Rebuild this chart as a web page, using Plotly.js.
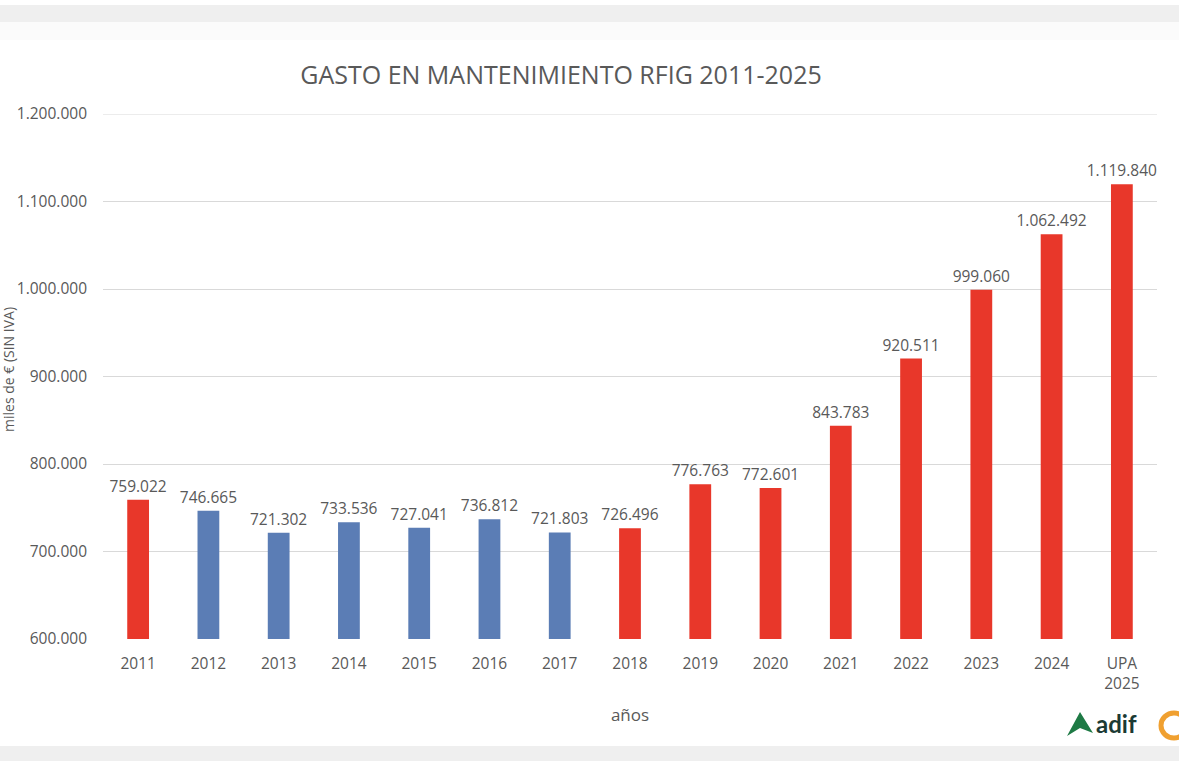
<!DOCTYPE html>
<html>
<head>
<meta charset="utf-8">
<script src="https://cdn.plot.ly/plotly-3.0.1.min.js"></script>
<style>html,body{margin:0;padding:0;background:#fff;}#chart{width:1179px;height:761px;}</style>
</head>
<body>
<div id="chart"></div>
<script>
const categories = ['2011','2012','2013','2014','2015','2016','2017','2018','2019','2020','2021','2022','2023','2024','UPA<br>2025'];
const values = [759022, 746665, 721302, 733536, 727041, 736812, 721803, 726496, 776763, 772601, 843783, 920511, 999060, 1062492, 1119840];
const blueCategories = ['2012','2013','2014','2015','2016','2017'];
const yTicks = [600000, 700000, 800000, 900000, 1000000, 1100000, 1200000];

const RED = '#E8372A', BLUE = '#5B7DB5', TXT = '#595959';
const colors = categories.map(c => blueCategories.includes(c) ? BLUE : RED);

const L = 103, R = 22, T = 114, B = 122, H = 761, W = 1179;
const ph = H - T - B, pw = W - L - R;
const py = px => (H - B - px) / ph;   // pixel y -> paper y
const pxx = px => (px - L) / pw;       // pixel x -> paper x

const trace = {
  type: 'bar', x: categories, y: values,
  marker: {color: colors},
  texttemplate: '%{y:,d}', textposition: 'outside', cliponaxis: false, constraintext: 'none',
  textfont: {family: 'Open Sans', size: 15.5, color: TXT},
  outsidetextfont: {family: 'Open Sans', size: 15.5, color: TXT},
  hoverinfo: 'x+y'
};

const layout = {
  width: W, height: H,
  margin: {l: L, r: R, t: T, b: B, pad: 0},
  paper_bgcolor: '#ffffff', plot_bgcolor: 'rgba(0,0,0,0)',
  separators: ',.',
  font: {family: 'Open Sans', color: TXT},
  bargap: 0.69,
  showlegend: false,
  uniformtext: {mode: false},
  title: {text: 'GASTO EN MANTENIMIENTO RFIG 2011-2025', font: {family: 'Open Sans', size: 25, color: TXT},
          xref: 'paper', x: pxx(561), xanchor: 'center', yref: 'container', y: 1 - 75 / H, yanchor: 'middle'},
  xaxis: {type: 'category', tickfont: {size: 15.5, color: TXT}, showgrid: false, showline: false, ticks: '',
          ticklabelstandoff: 13,
          title: {text: 'años', font: {size: 17, color: TXT}, standoff: 16}},
  yaxis: {range: [600000, 1200000], tickvals: yTicks, tickformat: ',d', tickfont: {size: 15.5, color: TXT},
          gridcolor: '#d9d9d9', gridwidth: 1, zeroline: false, showline: false, ticks: '', ticklabelstandoff: 15},
  shapes: [
    {type: 'rect', xref: 'paper', yref: 'paper', x0: pxx(0), x1: pxx(W), y0: py(22), y1: py(5), fillcolor: '#efefef', line: {width: 0}, layer: 'below'},
    {type: 'rect', xref: 'paper', yref: 'paper', x0: pxx(0), x1: pxx(W), y0: py(40), y1: py(22), fillcolor: '#fbfbfb', line: {width: 0}, layer: 'below'},
    {type: 'rect', xref: 'paper', yref: 'paper', x0: pxx(0), x1: pxx(W), y0: py(761), y1: py(746), fillcolor: '#efefef', line: {width: 0}, layer: 'below'},
    // top gridline (edge of range)
    {type: 'line', xref: 'paper', yref: 'y', x0: 0, x1: 1, y0: yTicks[yTicks.length - 1], y1: yTicks[yTicks.length - 1],
     line: {color: '#d9d9d9', width: 1}, layer: 'below'},
    // adif logo mark
    {type: 'path', xref: 'paper', yref: 'paper',
     path: `M ${pxx(1067)} ${py(736)} L ${pxx(1080)} ${py(712)} L ${pxx(1093)} ${py(733)} L ${pxx(1080)} ${py(728)} Z`,
     fillcolor: '#1e7a45', line: {width: 0}},
    {type: 'circle', xref: 'paper', yref: 'paper', x0: pxx(1161), x1: pxx(1187), y0: py(738), y1: py(713),
     fillcolor: 'rgba(0,0,0,0)', line: {color: '#f0a030', width: 5}}
  ],
  annotations: [
    {text: 'miles de € (SIN IVA)', textangle: -90, xref: 'paper', yref: 'paper', x: pxx(8), y: py(370),
     xanchor: 'center', yanchor: 'middle', showarrow: false, font: {size: 14, color: TXT}},
    {text: '<b>adif</b>', xref: 'paper', yref: 'paper', x: pxx(1094), y: py(723), xanchor: 'left', yanchor: 'middle',
     showarrow: false, font: {family: 'Lato', size: 24, color: '#1b3a34'}}
  ]
};

Plotly.newPlot('chart', [trace], layout, {displayModeBar: false, responsive: false});
</script>
</body>
</html>
